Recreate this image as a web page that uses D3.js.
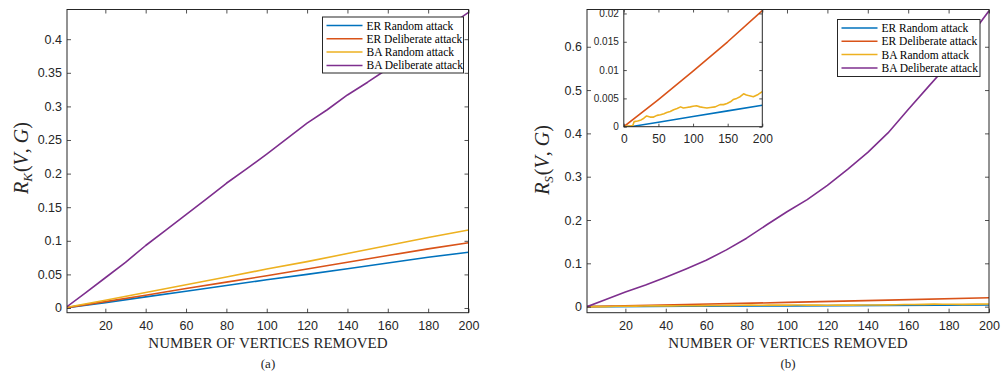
<!DOCTYPE html>
<html><head><meta charset="utf-8">
<script src="https://cdn.jsdelivr.net/npm/d3@7"></script>
<style>body{margin:0;background:#fff} svg{display:block}</style>
</head><body>
<script>
// ---------- data ----------
const seriesNames = ["ER Random attack", "ER Deliberate attack", "BA Random attack", "BA Deliberate attack"];
const xTicks = [20, 40, 60, 80, 100, 120, 140, 160, 180, 200];
const kYTicks = [0, 0.05, 0.1, 0.15, 0.2, 0.25, 0.3, 0.35, 0.4];
const sYTicks = [0, 0.1, 0.2, 0.3, 0.4, 0.5, 0.6];
const insetXTicks = [0, 50, 100, 150, 200];
const insetYTicks = [0, 0.005, 0.01, 0.015, 0.02];

// panel (a): R_K
const kX = [1, 20, 40, 60, 80, 100, 120, 140, 160, 180, 200];
const erRandomK = [0.0005, 0.008, 0.0165, 0.025, 0.0335, 0.042, 0.050, 0.0585, 0.067, 0.0755, 0.083];
const erDeliberateK = [0.0005, 0.0095, 0.019, 0.029, 0.0385, 0.048, 0.058, 0.068, 0.078, 0.088, 0.097];
const baRandomK = [0.001, 0.0115, 0.023, 0.0345, 0.046, 0.058, 0.069, 0.081, 0.093, 0.105, 0.116];
const baDelX = [1, 10, 20, 30, 40, 50, 60, 70, 80, 90, 100, 110, 120, 130, 140, 150, 160, 170, 180, 190, 200];
const baDeliberateK = [0.002, 0.022, 0.045, 0.068, 0.093, 0.116, 0.139, 0.162, 0.1856, 0.207, 0.229, 0.252, 0.275, 0.295, 0.317, 0.336, 0.356, 0.377, 0.398, 0.419, 0.44];

// panel (b): R_S
const erRandomSX = [0, 12, 50, 100, 150, 200];
const erRandomS = [0, 0.00005, 0.0008, 0.0018, 0.0028, 0.0038];
const erDeliberateSX = [0, 50, 100, 150, 200];
const erDeliberateS = [0, 0.0048, 0.0098, 0.015, 0.0205];
const baRandomSX = [0, 5, 10, 13, 15, 20, 25, 29, 33, 38, 43, 48, 53, 58, 62, 67, 72, 77, 82, 86, 91, 96, 100, 105, 110, 115, 120, 125, 132, 139, 144, 149, 154, 158, 163, 168, 173, 177, 180, 187, 194, 200];
const baRandomS = [0, 0.0001, 0.0001, 0.0002, 0.0009, 0.001, 0.0012, 0.0015, 0.0019, 0.0017, 0.0017, 0.002, 0.0021, 0.0023, 0.0025, 0.0027, 0.003, 0.0032, 0.0035, 0.0033, 0.0034, 0.0035, 0.0036, 0.0037, 0.0035, 0.0034, 0.0033, 0.0034, 0.0035, 0.0039, 0.0039, 0.0041, 0.0044, 0.0048, 0.005, 0.0053, 0.0058, 0.0056, 0.0055, 0.0053, 0.0057, 0.0062];
const baDeliberateS = [0, 0.016, 0.034, 0.050, 0.068, 0.087, 0.107, 0.131, 0.158, 0.189, 0.219, 0.247, 0.28, 0.317, 0.356, 0.401, 0.455, 0.508, 0.56, 0.62, 0.683];

// ---------- styles ----------
const colors = ["#0072BD", "#D95319", "#EDB120", "#7E2F8E"];
const axisColor = "#262626";
const sans = "Liberation Sans, Arial, sans-serif";
const serif = "Liberation Serif, Times New Roman, serif";

const zip = (xs, ys) => xs.map((x, i) => [x, ys[i]]);

const svg = d3.select("body").append("svg").attr("width", 1008).attr("height", 374);
const fmt = d => String(+d.toFixed(4));

function frame(g, x, y, xt, yt, fsx, fsy, tick) {
  const [x0, x1] = x.range(), [y0, y1] = y.range();
  const bx = g.append("g").attr("transform", `translate(0,${y0})`)
    .call(d3.axisBottom(x).tickValues(xt).tickSizeInner(-tick).tickSizeOuter(0).tickPadding(8).tickFormat(fmt));
  const tx = g.append("g").attr("transform", `translate(0,${y1})`)
    .call(d3.axisTop(x).tickValues(xt).tickSizeInner(-tick).tickSizeOuter(0).tickFormat(""));
  const ly = g.append("g").attr("transform", `translate(${x0},0)`)
    .call(d3.axisLeft(y).tickValues(yt).tickSizeInner(-tick).tickSizeOuter(0).tickPadding(5).tickFormat(fmt));
  const ry = g.append("g").attr("transform", `translate(${x1},0)`)
    .call(d3.axisRight(y).tickValues(yt).tickSizeInner(-tick).tickSizeOuter(0).tickFormat(""));
  [bx, tx, ly, ry].forEach(a => {
    a.select(".domain").remove();
    a.selectAll("line").attr("stroke", axisColor).attr("stroke-width", 0.8);
    a.selectAll("text").attr("fill", axisColor).attr("font-family", sans);
  });
  bx.selectAll("text").attr("font-size", fsx + "px");
  ly.selectAll("text").attr("font-size", fsy + "px");
  g.append("rect").attr("x", x0).attr("y", y1).attr("width", x1 - x0).attr("height", y0 - y1)
    .attr("fill", "none").attr("stroke", axisColor).attr("stroke-width", 1);
}

function lines(g, x, y, data, id) {
  const [x0, x1] = x.range(), [y0, y1] = y.range();
  svg.append("clipPath").attr("id", id).append("rect")
    .attr("x", x0).attr("y", y1).attr("width", x1 - x0).attr("height", y0 - y1);
  const line = d3.line().x(d => x(d[0])).y(d => y(d[1]));
  const lg = g.append("g").attr("clip-path", `url(#${id})`);
  data.forEach((d, i) => {
    lg.append("path").attr("d", line(d)).attr("fill", "none")
      .attr("stroke", colors[i]).attr("stroke-width", 1.6).attr("stroke-linejoin", "round");
  });
}

function legend(g, lx, ly, w, h) {
  g.append("rect").attr("x", lx).attr("y", ly).attr("width", w).attr("height", h)
    .attr("fill", "#fff").attr("stroke", axisColor).attr("stroke-width", 1);
  seriesNames.forEach((n, i) => {
    const yy = ly + 8.5 + i * 13.3;
    g.append("line").attr("x1", lx + 4).attr("x2", lx + 40).attr("y1", yy).attr("y2", yy)
      .attr("stroke", colors[i]).attr("stroke-width", 1.5);
    g.append("text").attr("x", lx + 44).attr("y", yy).attr("dy", "0.35em")
      .attr("font-family", serif).attr("font-size", "11.5px").attr("fill", "#000").text(n);
  });
}

function ylabel(g, cx, cy, sub) {
  const t = g.append("text").attr("transform", `translate(${cx},${cy}) rotate(-90)`)
    .attr("text-anchor", "middle").attr("font-family", serif).attr("font-size", "20px").attr("fill", axisColor);
  t.append("tspan").attr("font-style", "italic").text("R");
  t.append("tspan").attr("font-style", "italic").attr("font-size", "13px").attr("dy", 4).text(sub);
  t.append("tspan").attr("dy", -4).attr("dx", 1).text("(");
  t.append("tspan").attr("font-style", "italic").text("V");
  t.append("tspan").text(", ");
  t.append("tspan").attr("font-style", "italic").text("G");
  t.append("tspan").text(")");
}

function titles(g, cx, letter) {
  g.append("text").attr("x", cx).attr("y", 348).attr("text-anchor", "middle")
    .attr("font-family", serif).attr("font-size", "15px").attr("fill", axisColor)
    .text("NUMBER OF VERTICES REMOVED");
  g.append("text").attr("x", cx).attr("y", 368).attr("text-anchor", "middle")
    .attr("font-family", serif).attr("font-size", "13px").attr("fill", axisColor)
    .text(letter);
}

// ---------- panel (a) ----------
{
  const g = svg.append("g");
  const x = d3.scaleLinear().domain([1, 200]).range([67, 468.5]);
  const y = d3.scaleLinear().domain([-0.007, 0.4442]).range([312.7, 9.5]);
  lines(g, x, y, [zip(kX, erRandomK), zip(kX, erDeliberateK), zip(kX, baRandomK), zip(baDelX, baDeliberateK)], "clipA");
  frame(g, x, y, xTicks, kYTicks, 12.5, 12.5, 4);
  legend(g, 322.5, 17, 141, 56);
  ylabel(g, 28, 158, "K");
  titles(g, 268, "(a)");
}

// ---------- panel (b) ----------
{
  const g = svg.append("g");
  const x = d3.scaleLinear().domain([1, 200]).range([587, 989]);
  const y = d3.scaleLinear().domain([-0.014, 0.686]).range([312.7, 9.5]);
  lines(g, x, y, [zip(erRandomSX, erRandomS), zip(erDeliberateSX, erDeliberateS), zip(baRandomSX, baRandomS), zip(baDelX, baDeliberateS)], "clipB");
  frame(g, x, y, xTicks, sYTicks, 12.5, 12.5, 4);
  legend(g, 837.5, 19.5, 142.5, 57);
  ylabel(g, 549, 160, "S");
  titles(g, 788, "(b)");

  // inset
  const ix = d3.scaleLinear().domain([0, 200]).range([623.8, 762.3]);
  const iy = d3.scaleLinear().domain([0, 0.0207]).range([126.7, 9.5]);
  g.append("rect").attr("x", 623.8).attr("y", 9.5).attr("width", 762.3 - 623.8).attr("height", 126.7 - 9.5).attr("fill", "#fff");
  lines(g, ix, iy, [zip(erRandomSX, erRandomS), zip(erDeliberateSX, erDeliberateS), zip(baRandomSX, baRandomS)], "clipInset");
  frame(g, ix, iy, insetXTicks, insetYTicks, 12, 10, 3);
}
</script>
</body></html>
